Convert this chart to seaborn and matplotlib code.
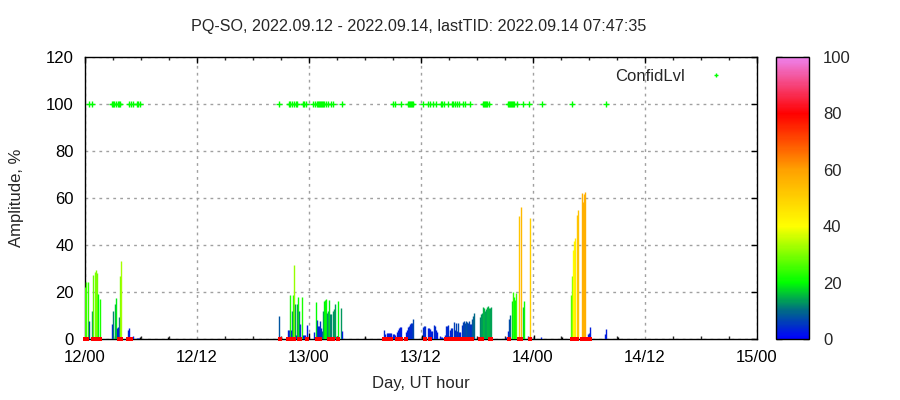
import numpy as np
import pandas as pd
import matplotlib
matplotlib.use("Agg")
import matplotlib.pyplot as plt
from matplotlib.colors import LinearSegmentedColormap, Normalize
from matplotlib.cm import ScalarMappable
from matplotlib.ticker import MultipleLocator
from matplotlib.lines import Line2D
import seaborn as sns

# ---------------- data (hours since 2022-09-12 00:00 UT) ----------------
bar_hours = [0.04, 0.14, 0.36, 0.46, 0.79, 0.89, 1.11, 1.21, 1.32, 1.43, 1.64,
             2.93, 3.04, 3.25, 3.36, 3.46, 3.57, 3.68, 3.79, 3.89,
             4.64, 4.75, 4.96, 5.07, 5.18, 5.61, 5.71, 5.82,
             20.82, 21.79, 21.89, 22.00, 22.11, 22.21, 22.32, 22.43, 22.54, 22.64,
             22.75, 22.86, 22.96, 23.07, 23.29, 23.39, 23.50, 23.61, 23.82,
             24.57, 24.79, 24.89, 25.00, 25.11, 25.21, 25.32, 25.43, 25.54, 25.64,
             25.75, 25.86, 25.96, 26.07, 26.18, 26.29, 26.39, 26.61, 26.71, 26.82,
             27.04, 27.14, 27.46, 27.57,
             32.07, 32.18, 32.39, 32.50, 32.61, 32.71, 32.82, 33.04, 33.14, 33.25,
             33.46, 33.57, 33.68, 33.79, 33.89, 34.43, 34.54, 34.64, 34.75, 34.86,
             34.96, 35.07, 35.18, 36.25, 36.36, 36.46, 36.79, 36.89, 37.00, 37.11,
             37.21, 37.43, 37.54, 37.64, 37.75, 38.07, 38.18, 38.29, 38.39, 38.61,
             38.71, 38.82, 38.93, 39.14, 39.25, 39.36, 39.57, 39.68, 39.79, 39.89,
             40.00, 40.11, 40.21, 40.43, 40.54, 40.64, 40.75, 40.86, 40.96, 41.07,
             41.18, 41.29, 41.39, 41.50, 41.61, 41.71,
             42.36, 42.46, 42.57, 42.68, 42.79, 42.89, 43.00, 43.11, 43.21, 43.32,
             43.43, 43.54,
             45.14, 45.36, 45.46, 45.57, 45.79, 45.89, 46.00, 46.11, 46.21, 46.54,
             46.75, 46.96, 47.07, 47.50, 47.71, 48.89,
             52.11, 52.21, 52.32, 52.43, 52.54, 52.75, 52.86, 53.29, 53.39, 53.50,
             53.61, 53.93, 54.04, 54.14, 55.75, 55.86]
bar_amp = [22.0, 24.3, 24.3, 7.7, 12.0, 27.2, 28.6, 29.4, 28.1, 19.0, 17.0,
           6.4, 12.0, 14.9, 17.4, 4.8, 5.0, 9.4, 27.0, 33.2,
           3.8, 4.5, 0.8, 0.9, 1.1, 0.5, 0.5, 0.5,
           9.8, 3.8, 3.8, 18.7, 4.0, 12.0, 18.7, 31.5, 14.9, 1.7,
           14.9, 17.9, 12.0, 6.4, 17.9, 1.7, 1.7, 1.7, 5.9,
           3.0, 15.7, 8.0, 5.5, 5.5, 7.7, 4.7, 3.4, 12.0, 16.2,
           16.6, 17.0, 11.1, 12.0, 16.6, 10.7, 10.7, 12.0, 12.8, 14.9,
           1.3, 16.2, 13.3, 3.4,
           3.8, 2.1, 2.6, 2.6, 2.6, 2.6, 2.6, 2.1, 2.1, 1.7,
           3.0, 3.8, 4.7, 5.1, 5.1, 3.0, 3.8, 5.1, 5.5, 6.4,
           6.8, 6.8, 8.5, 5.1, 5.5, 5.5, 4.7, 4.7, 4.3, 3.4,
           3.4, 6.0, 5.5, 3.8, 3.0, 1.3, 0.9, 0.9, 0.4, 1.7,
           5.5, 5.5, 6.0, 3.8, 4.7, 4.7, 7.2, 3.8, 6.8, 3.4,
           6.8, 3.0, 3.0, 6.0, 7.2, 7.7, 6.8, 7.7, 7.2, 6.8,
           7.7, 6.4, 6.4, 8.5, 9.8, 11.1,
           9.4, 10.7, 11.1, 13.6, 13.2, 11.9, 12.8, 13.6, 14.0, 13.2,
           13.2, 13.6,
           0.9, 3.4, 8.5, 10.2, 16.2, 20.0, 17.9, 16.6, 19.6, 52.3,
           56.2, 13.6, 16.0, 1.3, 51.5, 0.9,
           18.7, 26.8, 37.9, 41.7, 43.0, 52.8, 54.9, 62.1, 58.3, 61.7,
           62.5, 2.1, 2.6, 5.1, 2.1, 4.3]
bar_conf = [25, 25, 24, 8, 14, 28, 30, 30, 29, 20, 22,
            3, 12, 15, 19, 4, 2, 9, 30, 33,
            4, 2, 2, 2, 3, 3, 3, 3,
            8, 3, 3, 22, 3, 12, 22, 32, 14, 3,
            14, 21, 12, 4, 22, 3, 3, 3, 3,
            3, 20, 6, 3, 4, 5, 3, 8, 13, 19,
            20, 21, 12, 15, 19, 12, 12, 13, 13, 14,
            3, 20, 13, 3,
            4, 3, 3, 3, 3, 3, 3, 3, 3, 3,
            3, 3, 3, 3, 3, 3, 3, 3, 4, 4,
            4, 5, 7, 4, 4, 4, 3, 3, 3, 3,
            3, 4, 4, 3, 3, 3, 3, 3, 3, 3,
            4, 4, 4, 3, 4, 4, 6, 3, 6, 3,
            7, 3, 3, 5, 6, 7, 6, 8, 7, 6,
            7, 5, 5, 8, 9, 10,
            12, 13, 13, 15, 15, 14, 14, 15, 15, 15,
            14, 14,
            3, 3, 7, 9, 18, 24, 21, 20, 25, 52,
            55, 17, 21, 3, 50, 3,
            26, 30, 40, 42, 43, 52, 53, 57, 57, 57,
            57, 3, 3, 3, 3, 3]

black_hours = [5.93, 8.93, 20.93, 21.04, 24.04, 30.04, 36.14, 42.14, 48.14, 51.14, 57.14]
black_amp = [0.8, 0.8, 0.8, 0.8, 2.5, 0.8, 1.7, 0.9, 1.7, 0.9, 0.9]

conf_hours = [0.46, 0.78, 2.92, 3.03, 3.14, 3.35, 3.57, 3.67, 3.78, 4.75, 4.96, 5.17,
              5.60, 5.71, 5.89, 20.82, 21.89, 22.00, 22.21, 22.39, 22.61, 22.75,
              23.36, 23.50, 23.68, 24.46, 24.64, 24.89, 25.00, 25.10, 25.21, 25.32,
              25.42, 25.53, 25.64, 25.85, 26.07, 26.39, 26.60, 27.57, 33.03, 33.21,
              33.82, 34.61, 34.71, 34.82, 34.93, 35.04, 35.17, 36.25, 36.72, 36.96,
              37.25, 37.57, 38.14, 38.28, 38.43, 38.86, 39.32, 39.46, 39.64, 39.86,
              40.10, 40.53, 40.71, 41.22, 42.67, 42.78, 42.89, 43.00, 43.10, 43.32,
              45.35, 45.46, 45.57, 45.67, 45.78, 45.89, 46.00, 46.32, 46.96, 47.60,
              48.93, 52.14, 55.82]
conf_level = [100] * len(conf_hours)

red_hours = [0.03, 0.14, 0.25, 0.89, 1.10, 1.21, 1.32, 1.42, 1.64, 3.67, 3.78, 3.89,
             4.64, 4.96, 20.89, 21.75, 22.18, 22.39, 22.96, 23.07, 23.79, 24.86,
             25.18, 26.17, 26.28, 26.57, 27.11, 32.07, 32.50, 32.60, 32.71, 32.82,
             33.43, 33.86, 34.39, 36.43, 36.96, 38.71, 38.82, 39.25, 39.64, 39.96,
             40.42, 40.64, 40.85, 40.96, 41.07, 41.50, 42.35, 42.46, 42.57, 43.39,
             43.50, 45.43, 46.53, 46.75, 47.68, 52.21, 52.32, 52.43, 52.53, 52.75,
             53.28, 53.39, 53.50, 53.60, 53.93, 54.03, 54.14]
red_level = [0] * len(red_hours)

x_tick_hours = [0, 12, 24, 36, 48, 60, 72]
x_tick_labels = ["12/00", "12/12", "13/00", "13/12", "14/00", "14/12", "15/00"]
y_ticks = [0, 20, 40, 60, 80, 100, 120]
cb_ticks = [0, 20, 40, 60, 80, 100]

title = "PQ-SO, 2022.09.12 - 2022.09.14, lastTID: 2022.09.14 07:47:35"

# ---------------- style ----------------
sns.set_style("white")
plt.rcParams["font.family"] = ["Liberation Sans", "DejaVu Sans"]
plt.rcParams["font.size"] = 12

cmap = LinearSegmentedColormap.from_list(
    "confid",
    [(0.00, (0.0, 0.0, 1.0)),
     (0.10, (0.0, 0.42, 0.52)),
     (0.20, (0.0, 1.0, 0.0)),
     (0.40, (1.0, 1.0, 0.0)),
     (0.60, (1.0, 0.63, 0.0)),
     (0.80, (1.0, 0.0, 0.0)),
     (1.00, (0.93, 0.51, 0.93))])
norm = Normalize(0, 100)

fig = plt.figure(figsize=(9, 4), dpi=100)
ax = fig.add_axes([85 / 900, 61 / 400, 672 / 900, 282 / 400])
cax = fig.add_axes([776 / 900, 61 / 400, 33 / 900, 282 / 400])

bars = pd.DataFrame({"hour": bar_hours, "amp": bar_amp, "conf": bar_conf})
blk = pd.DataFrame({"hour": black_hours, "amp": black_amp})
conf_df = pd.DataFrame({"hour": conf_hours, "level": conf_level})
red_df = pd.DataFrame({"hour": red_hours, "level": red_level})

ax.vlines(bars["hour"], 0, bars["amp"], colors=cmap(norm(bars["conf"])), linewidth=1.0, zorder=3)
ax.vlines(blk["hour"], 0, blk["amp"], colors="black", linewidth=1.0, zorder=3)

sns.scatterplot(data=conf_df, x="hour", y="level", ax=ax, marker="+", color="#00ff00",
                s=18, linewidth=1.0, zorder=4, legend=False)
sns.scatterplot(data=red_df, x="hour", y="level", ax=ax, marker="s", color="#ff0000",
                s=5, linewidth=0, zorder=4, legend=False, clip_on=False)

ax.set_xlim(0, 72)
ax.set_ylim(0, 120)
ax.set_xticks(x_tick_hours)
ax.set_xticklabels(x_tick_labels)
ax.xaxis.set_minor_locator(MultipleLocator(3))
ax.set_yticks(y_ticks)
ax.grid(True, which="major", color="#a0a0a0", linestyle=(0, (2, 3)), linewidth=1.0)
ax.tick_params(axis="both", which="major", direction="in", length=4, width=1,
               top=True, right=True, labelsize=12, pad=8, colors="black")
ax.tick_params(axis="x", which="minor", direction="in", length=2, width=1, top=True, bottom=True)
for s in ax.spines.values():
    s.set_color("black")
    s.set_linewidth(1.0)
ax.set_xlabel("Day, UT hour", fontsize=12, labelpad=8)
ax.set_ylabel("Amplitude, %", fontsize=12, labelpad=16)
fig.text(419 / 900, 1 - 27 / 400, title, ha="center", va="center", fontsize=11.6)

handle = Line2D([], [], marker="+", color="#00ff00", linestyle="none", markersize=3, markeredgewidth=1)
ax.legend([handle], ["ConfidLvl"], loc="upper right", frameon=False, markerfirst=False,
          bbox_to_anchor=(0.975, 1.0), handlelength=1.5, handletextpad=1.1, fontsize=12,
          borderaxespad=0.3)

sm = ScalarMappable(norm=norm, cmap=cmap)
cb = fig.colorbar(sm, cax=cax, ticks=cb_ticks)
cb.outline.set_edgecolor("black")
cb.outline.set_linewidth(1.0)
cax.tick_params(direction="in", length=4, width=1, left=True, right=True, labelsize=12, pad=10)

fig.savefig("out.png", dpi=100)
